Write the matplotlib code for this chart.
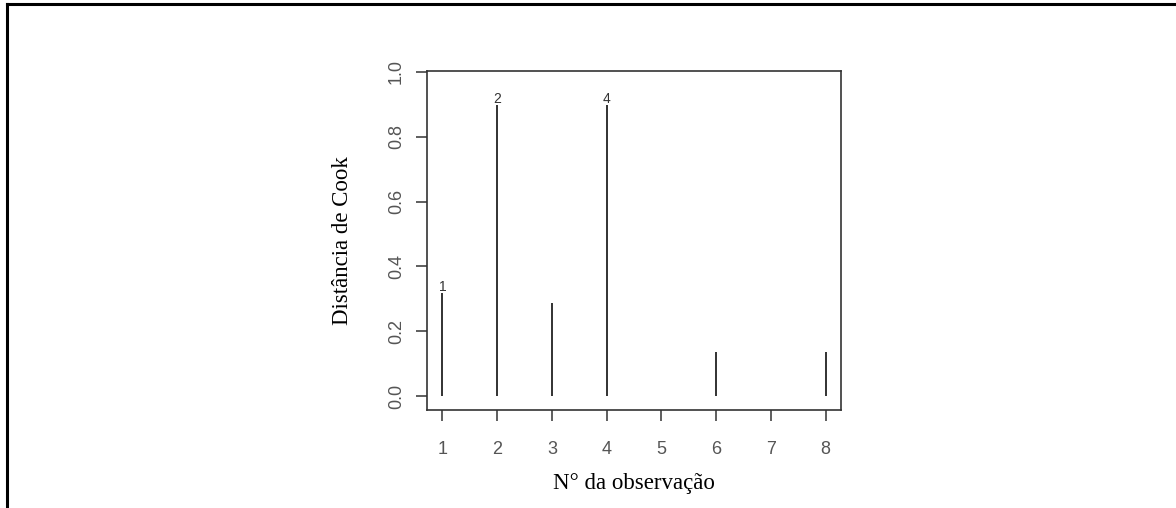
import numpy as np
import matplotlib
matplotlib.use("Agg")
import matplotlib.pyplot as plt
from matplotlib.lines import Line2D

# dados: distancia de Cook por observacao
obs = [1, 2, 3, 4, 5, 6, 7, 8]
cook = [0.318, 0.898, 0.287, 0.898, 0.0, 0.136, 0.0, 0.136]
rotulos = {1: "1", 2: "2", 4: "4"}
xticks = [1, 2, 3, 4, 5, 6, 7, 8]
yticks = [0.0, 0.2, 0.4, 0.6, 0.8, 1.0]

W, H = 1176, 508
fig = plt.figure(figsize=(W / 100, H / 100), dpi=100)
fig.patch.set_facecolor("white")

# moldura da figura (apenas topo e esquerda)
fig.add_artist(Line2D([6.5 / W, 1], [1 - 4 / H, 1 - 4 / H], color="black", lw=2.2))
fig.add_artist(Line2D([7 / W, 7 / W], [0, 1 - 4 / H], color="black", lw=2.2))

# eixo
left, right, top, bottom = 427, 841, 71, 410
ax = fig.add_axes([left / W, 1 - bottom / H, (right - left) / W, (bottom - top) / H])
ax.vlines(obs, 0, cook, color="#222222", lw=1.3)
for i, lab in rotulos.items():
    ax.text(i, cook[i - 1] - 0.004, lab, ha="center", va="bottom", fontsize=10,
            family="Liberation Sans", color="#333333")

ax.set_xlim(0.72, 8.28)
ax.set_ylim(-0.043, 1.003)
ax.set_xticks(xticks)
ax.set_yticks(yticks)
ax.set_xticklabels([str(v) for v in xticks], family="Liberation Sans", fontsize=13, color="#555555")
ax.set_yticklabels(["0.0", "0.2", "0.4", "0.6", "0.8", "1.0"], family="Liberation Sans",
                   fontsize=13, color="#555555", rotation=90, va="center")
ax.tick_params(direction="out", length=8, width=1.1, color="#333333")
ax.tick_params(axis="x", pad=14)
ax.tick_params(axis="y", pad=8)
for s in ax.spines.values():
    s.set_color("#333333")
    s.set_linewidth(1.2)

ax.set_xlabel("N° da observação", family="Liberation Serif", fontsize=16.5, va="center")
ax.set_ylabel("Distância de Cook", family="Liberation Serif", fontsize=16.5, va="center")
ax.xaxis.set_label_coords(0.5, (bottom - 483) / (bottom - top))
ax.yaxis.set_label_coords((343 - left) / (right - left), 0.5)

fig.savefig("out.png", dpi=100)
